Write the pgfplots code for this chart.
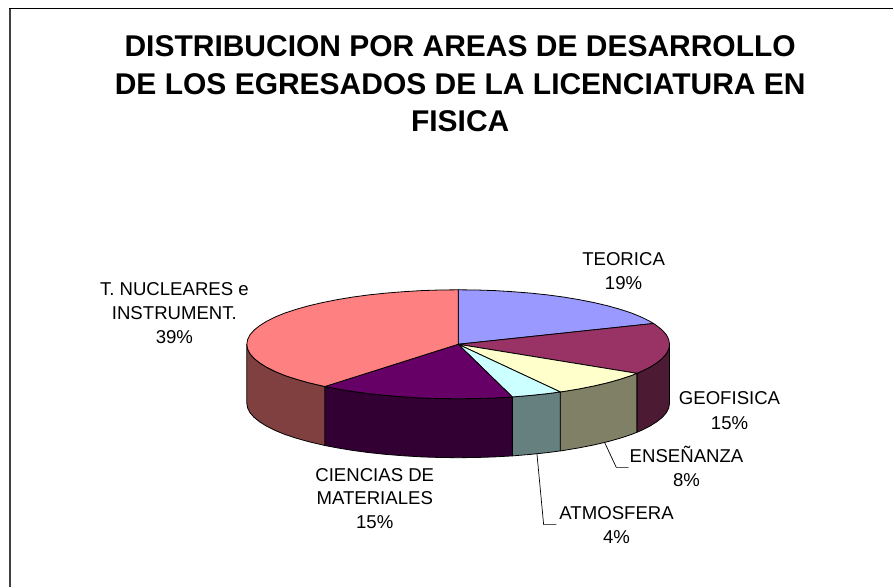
\documentclass[border=0pt]{standalone}
\usepackage{pgfplots}
\pgfplotsset{compat=1.18}
\usepackage{fontspec}
\setmainfont{Liberation Sans}
\definecolor{cTeo}{HTML}{9999FF}
\definecolor{cGeo}{HTML}{993366}
\definecolor{cEns}{HTML}{FFFFCC}
\definecolor{cAtm}{HTML}{CCFFFF}
\definecolor{cCie}{HTML}{660066}
\definecolor{cNuc}{HTML}{FF8080}
\definecolor{wGeo}{HTML}{4D1A33}
\definecolor{wEns}{HTML}{808066}
\definecolor{wAtm}{HTML}{668080}
\definecolor{wCie}{HTML}{330033}
\definecolor{wNuc}{HTML}{804040}
\newcommand{\lab}{\fontsize{18.6}{20}\selectfont}
\newcommand{\ttl}{\fontsize{30}{32}\selectfont\bfseries}
\tikzset{lbl/.style={anchor=base, inner sep=0pt, text=black}}
\begin{document}
\begin{tikzpicture}
\begin{axis}[
  scale only axis, width=894pt, height=587pt,
  xmin=0, xmax=894, ymin=0, ymax=587, y dir=reverse,
  hide axis, clip=false,
  every axis plot/.append style={draw=black, line width=0.8pt, line join=round},
]
% full canvas
\addplot[draw=none, line width=0pt] coordinates {(0,0) (894,587)};
% frame (left and top sides only)
\addplot[draw=black!75, line width=1.8pt] coordinates {(10,587) (10,8.5)};
\addplot[draw=black, line width=1.2pt] coordinates {(9.2,8.5) (894,8.5)};
% walls
\addplot[fill=wGeo] coordinates {(670,344.5)(669.2,349.25)(666.8,354)(662.8,358.6)(657.2,363.1)(650.2,367.5)(641.7,371.75)(637.3,373.6)(637.3,432.6)(641.7,430.75)(650.2,426.5)(657.2,422.1)(662.8,417.6)(666.8,413)(669.2,408.25)(670,403.5)(670,344.5)};
\addplot[fill=wEns] coordinates {(637.3,373.6)(631.8,375.8)(620.5,379.5)(608.1,383)(594.4,386.2)(579.8,389.1)(564.3,391.7)(560.7,392.2)(560.7,451.2)(564.3,450.7)(579.8,448.1)(594.4,445.2)(608.1,442)(620.5,438.5)(631.8,434.8)(637.3,432.6)(637.3,373.6)};
\addplot[fill=wAtm] coordinates {(560.7,392.2)(547.9,393.9)(530.8,395.7)(512.7,397.2)(512.7,456.2)(530.8,454.7)(547.9,452.9)(560.7,451.2)(560.7,392.2)};
\addplot[fill=wCie] coordinates {(512.7,397.2)(495.2,398.2)(476.9,398.8)(458.5,399)(440.1,398.8)(421.8,398.2)(403.8,397.1)(386.2,395.7)(369.1,393.9)(352.7,391.7)(337.2,389.1)(325,386.8)(325,445.8)(337.2,448.1)(352.7,450.7)(369.1,452.9)(386.2,454.7)(403.8,456.1)(421.8,457.2)(440.1,457.8)(458.5,458)(476.9,457.8)(495.2,457.2)(512.7,456.2)(512.7,397.2)};
\addplot[fill=wNuc] coordinates {(325,386.8)(322.6,386.2)(308.9,383)(296.5,379.5)(285.2,375.8)(275.3,371.75)(266.8,367.5)(259.8,363.1)(254.2,358.6)(250.2,354)(247.8,349.25)(247,344.5)(247,403.5)(247.8,408.25)(250.2,413)(254.2,417.6)(259.8,422.1)(266.8,426.5)(275.3,430.75)(285.2,434.8)(296.5,438.5)(308.9,442)(322.6,445.2)(325,445.8)(325,386.8)};
% top faces
\addplot[fill=cTeo] coordinates {(458.5,344.5)(458.5,290)(476.9,290.2)(495.2,290.8)(513.2,291.9)(530.8,293.3)(547.9,295.1)(564.3,297.3)(579.8,299.9)(594.4,302.8)(608.1,306)(620.5,309.5)(631.8,313.2)(641.7,317.25)(650.2,321.5)(654,323.7)(458.5,344.5)};
\addplot[fill=cGeo] coordinates {(458.5,344.5)(654,323.7)(657.2,325.9)(662.8,330.4)(666.8,335)(669.2,339.75)(670,344.5)(669.2,349.25)(666.8,354)(662.8,358.6)(657.2,363.1)(650.2,367.5)(641.7,371.75)(637.3,373.6)(458.5,344.5)};
\addplot[fill=cEns] coordinates {(458.5,344.5)(637.3,373.6)(631.8,375.8)(620.5,379.5)(608.1,383)(594.4,386.2)(579.8,389.1)(564.3,391.7)(560.7,392.2)(458.5,344.5)};
\addplot[fill=cAtm] coordinates {(458.5,344.5)(560.7,392.2)(547.9,393.9)(530.8,395.7)(512.7,397.2)(458.5,344.5)};
\addplot[fill=cCie] coordinates {(458.5,344.5)(512.7,397.2)(495.2,398.2)(476.9,398.8)(458.5,399)(440.1,398.8)(421.8,398.2)(403.8,397.1)(386.2,395.7)(369.1,393.9)(352.7,391.7)(337.2,389.1)(325,386.8)(458.5,344.5)};
\addplot[fill=cNuc] coordinates {(458.5,344.5)(325,386.8)(322.6,386.2)(308.9,383)(296.5,379.5)(285.2,375.8)(275.3,371.75)(266.8,367.5)(259.8,363.1)(254.2,358.6)(250.2,354)(247.8,349.25)(247,344.5)(247.8,339.75)(250.2,335)(254.2,330.4)(259.8,325.9)(266.8,321.5)(275.3,317.25)(285.2,313.2)(296.5,309.5)(308.9,306)(322.6,302.8)(337.2,299.9)(352.7,297.3)(369.1,295.1)(386.2,293.3)(403.8,291.9)(421.8,290.8)(440.1,290.2)(458.5,290)(458.5,344.5)};
% leader lines
\addplot[line width=0.7pt] coordinates {(605,442.7)(616.7,467.7)(629,467.7)};
\addplot[line width=0.7pt] coordinates {(537.3,454)(544,525)(556.7,525)};
% title
\node[lbl] at (axis cs:460.5,57) {\ttl DISTRIBUCION POR AREAS DE DESARROLLO};
\node[lbl] at (axis cs:460.5,95) {\ttl DE LOS EGRESADOS DE LA LICENCIATURA EN};
\node[lbl] at (axis cs:460.5,132) {\ttl FISICA};
% labels
\node[lbl] at (axis cs:624,266) {\lab TEORICA};
\node[lbl] at (axis cs:624,290) {\lab 19\%};
\node[lbl] at (axis cs:174.5,296) {\lab T. NUCLEARES e};
\node[lbl] at (axis cs:174.5,320) {\lab INSTRUMENT.};
\node[lbl] at (axis cs:174.5,344) {\lab 39\%};
\node[lbl] at (axis cs:730,405) {\lab GEOFISICA};
\node[lbl] at (axis cs:730,429.3) {\lab 15\%};
\node[lbl] at (axis cs:687,462.7) {\lab ENSEÑANZA};
\node[lbl] at (axis cs:687,486.7) {\lab 8\%};
\node[lbl] at (axis cs:617,520) {\lab ATMOSFERA};
\node[lbl] at (axis cs:617,543.5) {\lab 4\%};
\node[lbl] at (axis cs:375,481.7) {\lab CIENCIAS DE};
\node[lbl] at (axis cs:375,505) {\lab MATERIALES};
\node[lbl] at (axis cs:375,528.5) {\lab 15\%};
\end{axis}
\end{tikzpicture}
\end{document}
